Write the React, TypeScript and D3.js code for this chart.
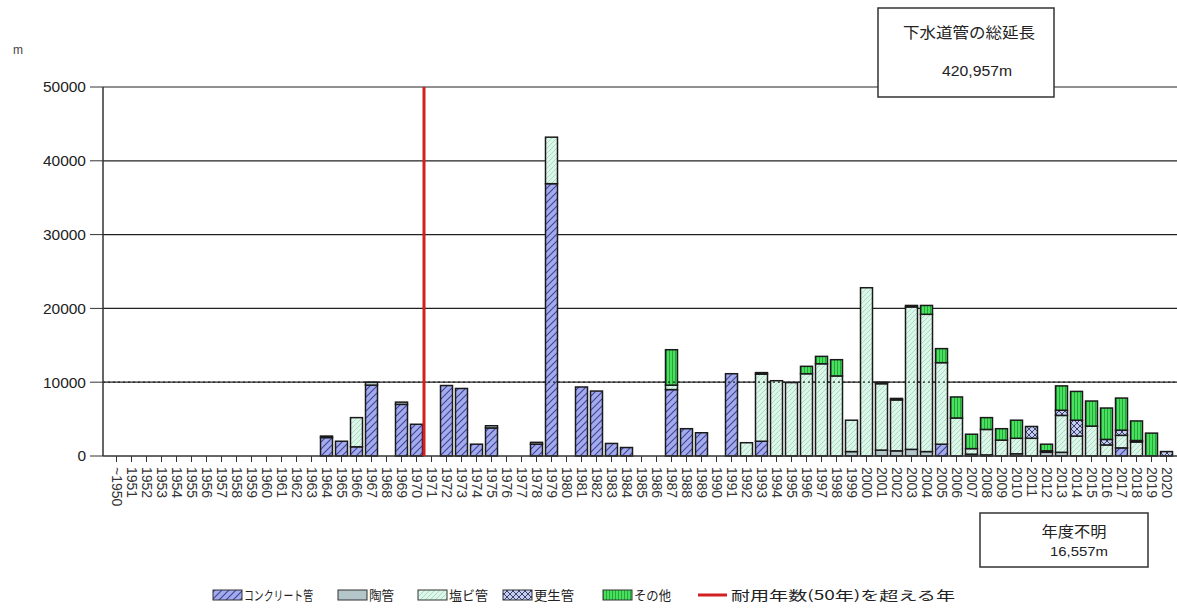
import React from 'react';
import * as d3 from 'd3';

// 年度 (categories)
const years: string[] = ['~1950', ...d3.range(1951, 2021).map(String)];

// 管種別延長 (m) - rows of 10 years: 1950s, 1960s, ... 2010s, 2020
const concrete = [
  0, 0, 0, 0, 0, 0, 0, 0, 0, 0,
  0, 0, 0, 0, 2500, 2000, 1250, 9600, 0, 7000,
  4300, 0, 9550, 9150, 1600, 3800, 0, 0, 1600, 36900,
  0, 9350, 8800, 1700, 1150, 0, 0, 9000, 3700, 3150,
  0, 11150, 0, 2000, 0, 0, 0, 0, 0, 0,
  0, 0, 0, 0, 0, 1600, 0, 0, 0, 0,
  0, 0, 0, 0, 0, 0, 0, 1100, 0, 0,
  0,
];
const toukan = [
  0, 0, 0, 0, 0, 0, 0, 0, 0, 0,
  0, 0, 0, 0, 200, 0, 0, 400, 0, 300,
  0, 0, 0, 0, 0, 300, 0, 0, 250, 0,
  0, 0, 0, 0, 0, 0, 0, 0, 0, 0,
  0, 0, 0, 0, 0, 0, 0, 0, 0, 600,
  0, 800, 700, 900, 600, 0, 0, 250, 150, 0,
  300, 0, 500, 500, 0, 0, 0, 0, 0, 0,
  0,
];
const enbi = [
  0, 0, 0, 0, 0, 0, 0, 0, 0, 0,
  0, 0, 0, 0, 0, 0, 3950, 0, 0, 0,
  0, 0, 0, 0, 0, 0, 0, 0, 0, 6300,
  0, 0, 0, 0, 0, 0, 0, 600, 0, 0,
  0, 0, 1800, 9100, 10200, 9950, 11150, 12500, 10850, 4250,
  22800, 9000, 6900, 19300, 18600, 11050, 5150, 750, 3450, 2150,
  2100, 2400, 200, 5000, 2700, 4050, 1500, 1700, 1900, 0,
  0,
];
const kousei = [
  0, 0, 0, 0, 0, 0, 0, 0, 0, 0,
  0, 0, 0, 0, 0, 0, 0, 0, 0, 0,
  0, 0, 0, 0, 0, 0, 0, 0, 0, 0,
  0, 0, 0, 0, 0, 0, 0, 0, 0, 0,
  0, 0, 0, 200, 0, 0, 0, 0, 0, 0,
  0, 200, 200, 200, 0, 0, 0, 0, 0, 0,
  0, 1600, 0, 700, 2150, 0, 750, 700, 200, 0,
  600,
];
const sonota = [
  0, 0, 0, 0, 0, 0, 0, 0, 0, 0,
  0, 0, 0, 0, 0, 0, 0, 0, 0, 0,
  0, 0, 0, 0, 0, 0, 0, 0, 0, 0,
  0, 0, 0, 0, 0, 0, 0, 4800, 0, 0,
  0, 0, 0, 0, 0, 0, 1000, 1000, 2200, 0,
  0, 0, 0, 0, 1200, 1900, 2850, 1950, 1600, 1550,
  2450, 0, 900, 3300, 3900, 3400, 4250, 4350, 2650, 3100,
  0,
];

const yTicks = [0, 10000, 20000, 30000, 40000, 50000];
const limitYear = '1971'; // 耐用年数(50年)を超える年

const seriesNames = ['コンクリート管', '陶管', '塩ビ管', '更生管', 'その他'];
const seriesKeys = ['concrete', 'toukan', 'enbi', 'kousei', 'sonota'];
const seriesFills = ['url(#pConcrete)', '#b3c7cb', 'url(#pEnbi)', 'url(#pKousei)', 'url(#pSonota)'];
const limitName = '耐用年数(50年)を超える年';

const totalLabel = '下水道管の総延長';
const totalValue = '420,957m';
const unknownLabel = '年度不明';
const unknownValue = '16,557m';

const W = 1177;
const H = 610;
const FONT = '"Liberation Sans", Arial, "Noto Sans CJK JP", sans-serif';
const JP = '"Noto Sans CJK JP", "Liberation Sans", sans-serif';

export default function App() {
  const table = years.map((y, i) => ({
    year: y,
    concrete: concrete[i],
    toukan: toukan[i],
    enbi: enbi[i],
    kousei: kousei[i],
    sonota: sonota[i],
  }));
  const stacked = d3.stack<any>().keys(seriesKeys)(table);

  const x = d3.scaleBand<string>().domain(years).range([109, 1174]).paddingInner(0.2).paddingOuter(0.1);
  const y = d3.scaleLinear().domain([0, 50000]).range([456, 87]);
  const axisLeft = 103;
  const step = x.step();
  const redX = (x(limitYear) as number) + x.bandwidth() / 2 - step / 2;

  // legend layout (swatch x, text width)
  const legendX = [213, 338, 418, 503, 603];
  const legendW = [69, 25, 39, 40, 37];

  return (
    <svg width={W} height={H} style={{ position: 'absolute', left: 0, top: 0, background: '#fff' }}>
      <defs>
        <pattern id="pConcrete" patternUnits="userSpaceOnUse" width="7" height="7">
          <rect width="7" height="7" fill="#a3abea" />
          <path d="M-1,1 l2,-2 M0,7 l7,-7 M6,8 l2,-2" stroke="#3d429e" strokeWidth="1.1" />
        </pattern>
        <pattern id="pEnbi" patternUnits="userSpaceOnUse" width="5" height="5">
          <rect width="5" height="5" fill="#dcf6e9" />
          <path d="M-1,1 l2,-2 M0,5 l5,-5 M4,6 l2,-2" stroke="#a9dcc2" strokeWidth="1" />
        </pattern>
        <pattern id="pKousei" patternUnits="userSpaceOnUse" width="6" height="6">
          <rect width="6" height="6" fill="#c4cdec" />
          <path d="M0,0 L6,6 M6,0 L0,6" stroke="#3b4272" strokeWidth="1" />
        </pattern>
        <pattern id="pSonota" patternUnits="userSpaceOnUse" width="3" height="3">
          <rect width="3" height="3" fill="#46e25e" />
          <path d="M0.5,0 V3" stroke="#2aa53d" strokeWidth="1" />
        </pattern>
      </defs>

      {/* unit */}
      <text x={13} y={54} fontSize={12} fontFamily={FONT} fill="#444">m</text>

      {/* grid lines + y axis */}
      {yTicks.map(t => (
        <g key={t}>
          {t > 0 && <line x1={axisLeft} x2={W} y1={y(t)} y2={y(t)} stroke="#222" strokeWidth={1.2} />}
          <line x1={90} x2={axisLeft} y1={y(t)} y2={y(t)} stroke="#333" strokeWidth={1} />
          <text x={86} y={y(t)} dy="0.35em" textAnchor="end" fontSize={15.5} fontFamily={FONT} fill="#222">{t}</text>
        </g>
      ))}

      {/* bars */}
      {stacked.map((s, si) => (
        <g key={s.key} fill={seriesFills[si]} stroke="#1a1a1a" strokeWidth={1.5}>
          {s.map((d, i) => {
            const h = y(d[0]) - y(d[1]);
            if (h <= 0) return null;
            return (
              <rect key={i} x={x(years[i])} y={y(d[1])} width={x.bandwidth()} height={h} />
            );
          })}
        </g>
      ))}

      {/* 10000 line shows through the light pvc bars as a dotted line */}
      <line x1={axisLeft} x2={W} y1={y(10000)} y2={y(10000)} stroke="#222" strokeWidth={1.2} strokeDasharray="2,3" />

      {/* axis lines */}
      <line x1={axisLeft} x2={axisLeft} y1={y(50000)} y2={y(0)} stroke="#333" strokeWidth={1.5} />
      <line x1={axisLeft} x2={W} y1={y(0)} y2={y(0)} stroke="#333" strokeWidth={1.5} />

      {/* x ticks and labels */}
      {years.map(yr => {
        const cx = (x(yr) as number) + x.bandwidth() / 2;
        return (
          <g key={yr}>
            <line x1={cx} x2={cx} y1={y(0)} y2={y(0) + 6} stroke="#333" strokeWidth={1} />
            <text transform={`translate(${cx},467) rotate(90)`} dy="0.35em" fontSize={14} fontFamily={FONT} fill="#333">{yr}</text>
          </g>
        );
      })}

      {/* red limit line */}
      <line x1={redX} x2={redX} y1={y(50000)} y2={y(0)} stroke="#d21f1f" strokeWidth={3} />

      {/* total box */}
      <rect x={878} y={8} width={176} height={89} fill="#fff" stroke="#333" strokeWidth={1.5} />
      <text x={969} y={38} textAnchor="middle" fontSize={15} fontFamily={JP} fill="#222" textLength={132} lengthAdjust="spacingAndGlyphs">{totalLabel}</text>
      <text x={977} y={76} textAnchor="middle" fontSize={14} fontFamily={FONT} fill="#222" textLength={70} lengthAdjust="spacingAndGlyphs">{totalValue}</text>

      {/* unknown-year box */}
      <rect x={980} y={513} width={168} height={54} fill="#fff" stroke="#333" strokeWidth={1.5} />
      <text x={1074} y={537} textAnchor="middle" fontSize={15} fontFamily={JP} fill="#222" textLength={65} lengthAdjust="spacingAndGlyphs">{unknownLabel}</text>
      <text x={1079} y={556} textAnchor="middle" fontSize={13} fontFamily={FONT} fill="#222" textLength={58} lengthAdjust="spacingAndGlyphs">{unknownValue}</text>

      {/* legend */}
      {seriesNames.map((n, i) => (
        <g key={n}>
          <rect x={legendX[i]} y={590} width={29} height={10} fill={seriesFills[i]} stroke="#333" strokeWidth={1} />
          <text x={legendX[i] + 31} y={600} fontSize={13} fontFamily={JP} fill="#222" textLength={legendW[i]} lengthAdjust="spacingAndGlyphs">{n}</text>
        </g>
      ))}
      <line x1={698} x2={727} y1={595} y2={595} stroke="#d21f1f" strokeWidth={3} />
      <text x={731} y={600} fontSize={13} fontFamily={JP} fill="#222" textLength={224} lengthAdjust="spacingAndGlyphs">{limitName}</text>
    </svg>
  );
}
